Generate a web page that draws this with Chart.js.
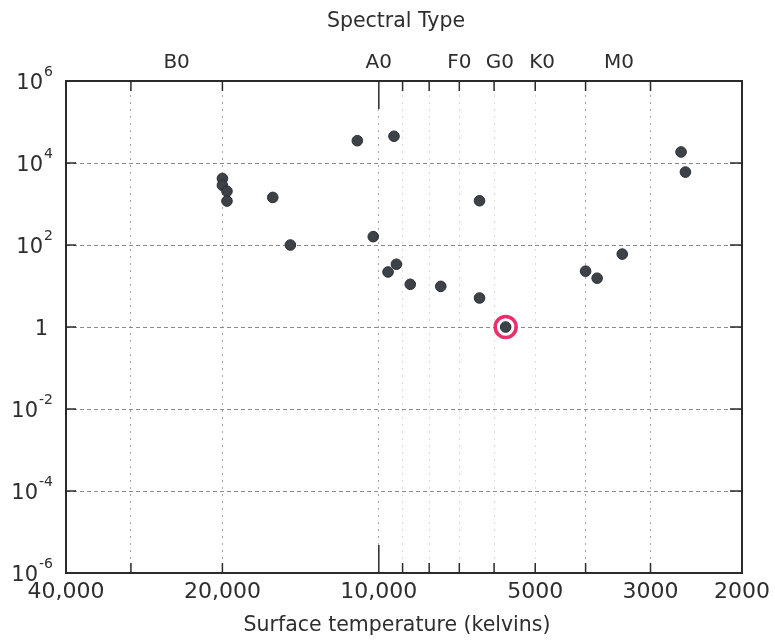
<!DOCTYPE html>
<html>
<head>
<meta charset="utf-8">
<title>H-R diagram</title>
<script src="https://cdn.jsdelivr.net/npm/chart.js@4.4.1/dist/chart.umd.min.js"></script>
<style>
  body { margin: 0; background: #fff; }
  #wrap { width: 775px; height: 643px; }
</style>
</head>
<body>
<div id="wrap"><canvas id="hr" width="775" height="643"></canvas></div>
<script>
// stars: surface temperature (K) and luminosity (Sun = 1)
const starTemps = [11000, 9350, 20000, 20000, 19600, 19600, 16000, 14800, 10250, 9600, 9250, 8700, 7600, 6400, 6400, 5700, 4000, 3800, 3400, 2620, 2570];
const starLums  = [35000, 45000, 4200, 2850, 2050, 1180, 1450, 100, 160, 22, 34, 11, 9.8, 1200, 5.1, 1, 23, 15.5, 60, 18600, 6000];

// the Sun, circled in red
const sunTemp = [5700];
const sunLum = [1];

const tempTicks = [40000, 30000, 20000, 10000, 9000, 8000, 7000, 6000, 5000, 4000, 3000, 2000];
const tempLabels = { 40000: '40,000', 20000: '20,000', 10000: '10,000', 5000: '5000', 3000: '3000', 2000: '2000' };
const lumTicks = [1e-6, 1e-4, 1e-2, 1, 1e2, 1e4, 1e6];

const spectralTypes = ['B0', 'A0', 'F0', 'G0', 'K0', 'M0'];
const spectralTemps = [24500, 10000, 7000, 5850, 4850, 3450];

const FONT = '"DejaVu Sans", sans-serif';
const INK = '#2e2e2e';

// frame, inward ticks and all the labels, placed through the chart scales
const frame = {
  id: 'frame',
  afterDraw(chart) {
    const { ctx, chartArea: a, scales: { x, y } } = chart;
    ctx.save();
    ctx.strokeStyle = '#2b2b2b';
    ctx.lineWidth = 2;
    ctx.strokeRect(a.left, a.top, a.right - a.left, a.bottom - a.top);

    ctx.lineWidth = 1.5;
    ctx.beginPath();
    tempTicks.forEach(t => {
      if (t === 40000 || t === 2000) return;
      const px = x.getPixelForValue(t);
      const len = t === 10000 ? 28 : 10;
      ctx.moveTo(px, a.bottom); ctx.lineTo(px, a.bottom - len);
      ctx.moveTo(px, a.top); ctx.lineTo(px, a.top + len);
    });
    lumTicks.forEach(v => {
      if (v === 1e6 || v === 1e-6) return;
      const py = y.getPixelForValue(v);
      ctx.moveTo(a.left, py); ctx.lineTo(a.left + 10, py);
      ctx.moveTo(a.right, py); ctx.lineTo(a.right - 12, py);
    });
    ctx.stroke();

    ctx.fillStyle = INK;
    ctx.textBaseline = 'alphabetic';

    // luminosity labels, 10 with a raised exponent
    lumTicks.forEach(v => {
      const py = y.getPixelForValue(v);
      const e = Math.round(Math.log10(v));
      if (e === 0) {
        ctx.font = '21px ' + FONT;
        ctx.textAlign = 'right';
        ctx.fillText('1', 48, py + 8);
        return;
      }
      const sup = e < 0 ? '-' + (-e) : String(e);
      ctx.font = '14px ' + FONT;
      const sw = ctx.measureText(sup).width;
      ctx.textAlign = 'left';
      ctx.fillText(sup, 53 - sw, py - 5);
      ctx.font = '21px ' + FONT;
      ctx.textAlign = 'right';
      ctx.fillText('10', 52 - sw, py + 8);
    });

    // temperature labels
    ctx.font = '22px ' + FONT;
    ctx.textAlign = 'center';
    ctx.textBaseline = 'middle';
    tempTicks.forEach(t => {
      if (!tempLabels[t]) return;
      ctx.fillText(tempLabels[t], x.getPixelForValue(t), 592);
    });

    // spectral types along the top
    ctx.font = '20px ' + FONT;
    spectralTypes.forEach((s, i) => {
      ctx.fillText(s, x.getPixelForValue(spectralTemps[i]), 63);
    });

    ctx.font = '20.5px ' + FONT;
    ctx.fillText('Spectral Type', 396, 22);
    ctx.fillText('Surface temperature (kelvins)', 397, 626);
    ctx.restore();
  }
};

const bold = [30000, 20000, 10000, 4000, 3000];

new Chart(document.getElementById('hr'), {
  type: 'scatter',
  data: {
    datasets: [
      {
        label: 'Sun',
        data: sunTemp.map((t, i) => ({ x: t, y: sunLum[i] })),
        pointRadius: 10.5,
        backgroundColor: 'rgba(0,0,0,0)',
        borderColor: '#ec2f6b',
        borderWidth: 3.5,
        order: 0
      },
      {
        label: 'Stars',
        data: starTemps.map((t, i) => ({ x: t, y: starLums[i] })),
        pointRadius: 5.3,
        backgroundColor: '#3c4248',
        borderColor: '#2a2f34',
        borderWidth: 1,
        order: 1
      }
    ]
  },
  options: {
    responsive: false,
    animation: false,
    layout: { padding: { left: 66, right: 33, top: 81, bottom: 70 } },
    plugins: { legend: { display: false }, tooltip: { enabled: false } },
    scales: {
      x: {
        type: 'logarithmic',
        reverse: true,
        min: 2000,
        max: 40000,
        afterBuildTicks: s => { s.ticks = tempTicks.map(v => ({ value: v })); },
        ticks: { display: false },
        border: { display: false, dash: [2, 5] },
        grid: {
          drawTicks: false,
          lineWidth: 1,
          color: c => bold.includes(c.tick && c.tick.value) ? 'rgba(0,0,0,0.35)' : 'rgba(0,0,0,0.14)'
        }
      },
      y: {
        type: 'logarithmic',
        min: 1e-6,
        max: 1e6,
        afterBuildTicks: s => { s.ticks = lumTicks.map(v => ({ value: v })); },
        ticks: { display: false },
        border: { display: false, dash: [4, 3] },
        grid: { drawTicks: false, lineWidth: 1, color: '#8a8a8a' }
      }
    }
  },
  plugins: [frame]
});
</script>
</body>
</html>
